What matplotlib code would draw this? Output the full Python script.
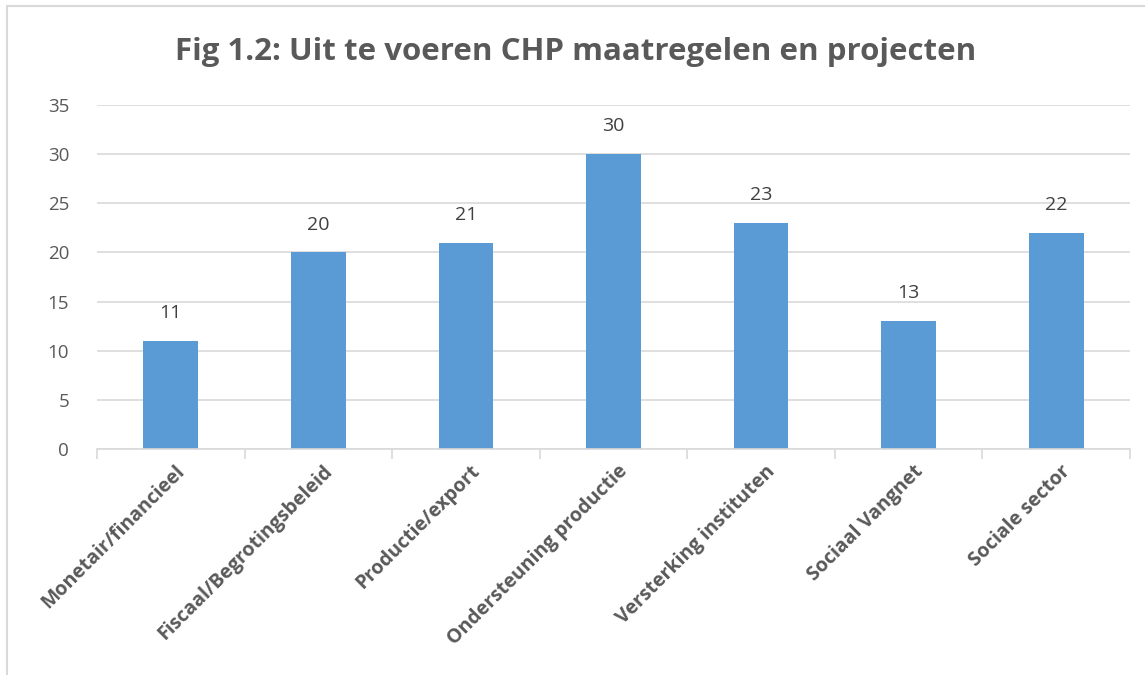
import matplotlib
matplotlib.use("Agg")
import matplotlib.pyplot as plt
from matplotlib.patches import Rectangle

categories = ["Monetair/financieel", "Fiscaal/Begrotingsbeleid", "Productie/export",
              "Ondersteuning productie", "Versterking instituten", "Sociaal Vangnet",
              "Sociale sector"]
values = [11, 20, 21, 30, 23, 13, 22]
yticks = [0, 5, 10, 15, 20, 25, 30, 35]
title = "Fig 1.2: Uit te voeren CHP maatregelen en projecten"

plt.rcParams['font.family'] = ['Open Sans', 'DejaVu Sans']

W, H = 1145, 675
fig = plt.figure(figsize=(W / 100, H / 100), dpi=100)
fig.patches.append(Rectangle((7 / W, -0.01), 1.0, 1 - 6 / H + 0.01, transform=fig.transFigure,
                             fill=False, edgecolor='#D9D9D9', linewidth=1.5))

ax = fig.add_axes([97 / W, 1 - 449 / H, (1130 - 97) / W, (449 - 105) / H])
x = list(range(len(categories)))
ax.bar(x, values, width=0.37, color='#5B9BD5', zorder=3)
ax.set_xlim(-0.5, len(categories) - 0.5)
ax.set_ylim(0, 35)
ax.set_yticks(yticks)
ax.grid(axis='y', color='#D9D9D9', linewidth=1.2, zorder=0)
for s in ['top', 'right', 'left']:
    ax.spines[s].set_visible(False)
ax.spines['bottom'].set_color('#D9D9D9')
ax.spines['bottom'].set_linewidth(1.2)
ax.spines['bottom'].set_zorder(4)
ax.tick_params(axis='y', length=0, pad=20, labelsize=13.5, labelcolor='#595959')
ax.set_xticks(x)
ax.set_xticklabels(categories, rotation=45, ha='right', va='top', rotation_mode='anchor',
                   fontsize=14, fontweight='bold', color='#595959')
ax.tick_params(axis='x', which='major', length=0, pad=9)
ax.set_xticks([i - 0.5 for i in range(len(categories) + 1)], minor=True)
ax.tick_params(axis='x', which='minor', length=7, width=1.2, color='#D9D9D9')
for lbl in ax.get_xticklabels():
    lbl.set_transform(lbl.get_transform() + matplotlib.transforms.ScaledTranslation(3 / 72, 0, fig.dpi_scale_trans))

for xi, v in zip(x, values):
    ax.annotate(str(v), (xi, v), xytext=(0, 20), textcoords='offset points',
                ha='center', va='center', fontsize=14, color='#404040')

fig.text(0.5 + 7 / W / 2, 1 - 52 / H, title, ha='center', va='center', fontsize=22.5,
         fontweight='bold', color='#595959')

fig.savefig('out.png', dpi=100)
